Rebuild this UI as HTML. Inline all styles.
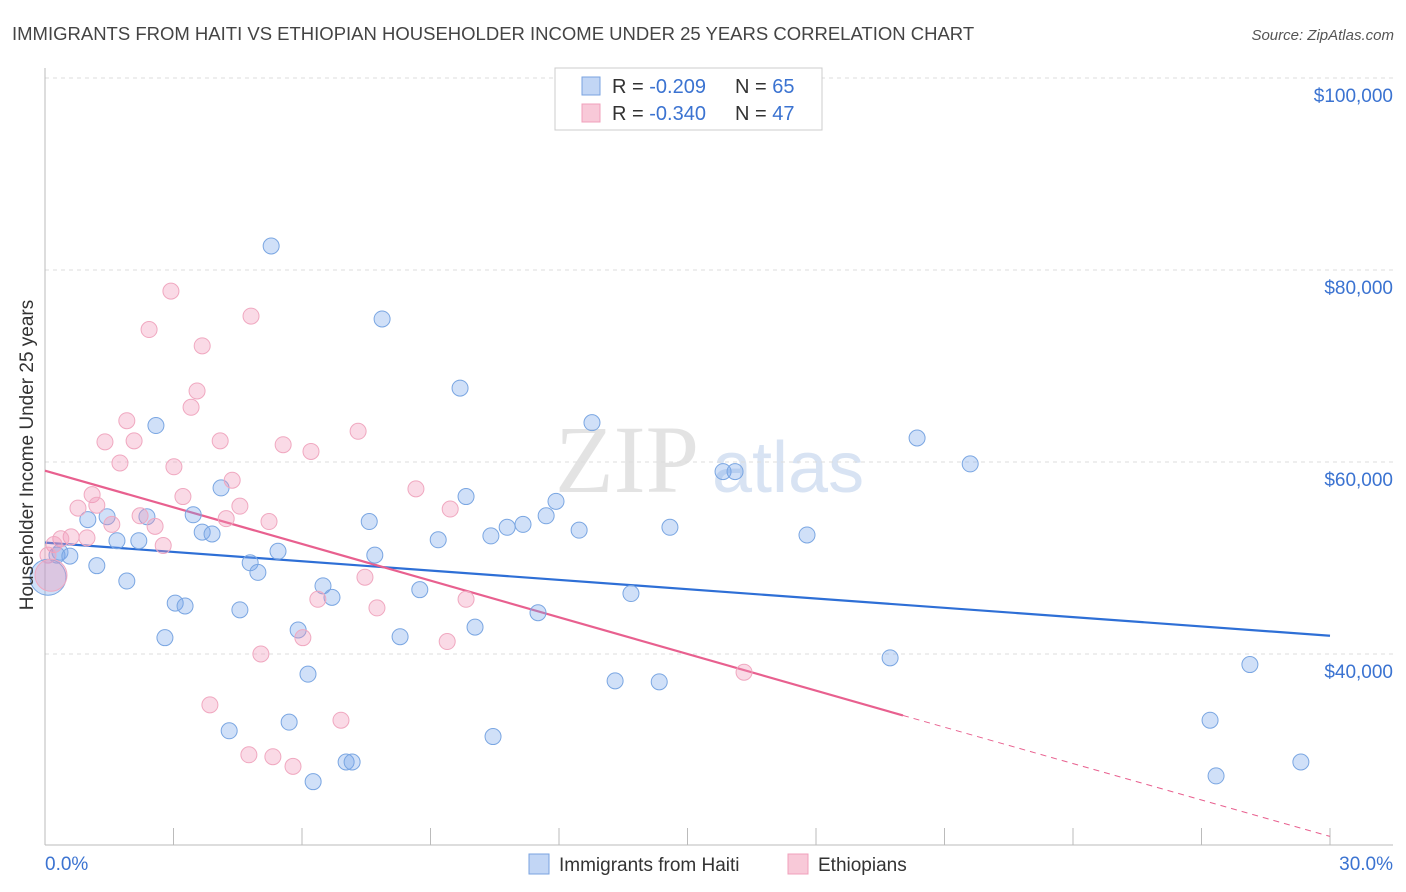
<!DOCTYPE html>
<html><head><meta charset="utf-8"><style>
body{margin:0;background:#fff;font-family:"Liberation Sans",sans-serif;}
svg{display:block}
</style></head><body>
<svg id="chart" width="1406" height="892" xmlns="http://www.w3.org/2000/svg">
<text x="12" y="40" font-size="18.5" fill="#444">IMMIGRANTS FROM HAITI VS ETHIOPIAN HOUSEHOLDER INCOME UNDER 25 YEARS CORRELATION CHART</text>
<text x="1394" y="40" font-size="15" fill="#555" font-style="italic" text-anchor="end">Source: ZipAtlas.com</text>
<g><text x="555" y="492" font-size="96" fill="#ddd" font-family="Liberation Serif,serif" opacity="0.8">ZIP</text><text x="712" y="492" font-size="72" fill="#c8d8ef" opacity="0.7">atlas</text></g>
<g id="grid"></g><g id="axes"></g><g id="lines"></g><g id="points"></g>
<text transform="translate(33,455) rotate(-90)" font-size="19" fill="#333" text-anchor="middle">Householder Income Under 25 years</text>
<g>
<rect x="555" y="68" width="267" height="62" fill="#fff" stroke="#ccc"/>
<rect x="582" y="77" width="18" height="18" fill="#c2d6f5" stroke="#7aa3e0"/>
<rect x="582" y="104" width="18" height="18" fill="#f8c9d8" stroke="#f0a0bb"/>
<text x="612" y="93" font-size="20" fill="#333">R = <tspan fill="#3b73d1">-0.209</tspan></text>
<text x="735" y="93" font-size="20" fill="#333">N = <tspan fill="#3b73d1">65</tspan></text>
<text x="612" y="120" font-size="20" fill="#333">R = <tspan fill="#3b73d1">-0.340</tspan></text>
<text x="735" y="120" font-size="20" fill="#333">N = <tspan fill="#3b73d1">47</tspan></text>
</g>
<g>
<rect x="529" y="854" width="20" height="20" fill="#c2d6f5" stroke="#7aa3e0"/>
<text x="559" y="871" font-size="19" fill="#333">Immigrants from Haiti</text>
<rect x="788" y="854" width="20" height="20" fill="#f8c9d8" stroke="#f0a0bb"/>
<text x="818" y="871" font-size="19" fill="#333">Ethiopians</text>
</g>
</svg>
<script>
const yTicks=[40,60,80,100];
const yTickLabels=["$40,000","$60,000","$80,000","$100,000"];
const xTickLabels=["0.0%","30.0%"];
const haitiX=[5.28,7.87,9.69,2.59,12.77,20.36,21.60,15.83,16.11,4.11,9.83,11.93,1.00,1.45,2.38,3.46,11.70,7.57,11.16,10.79,12.47,14.59,3.67,3.90,1.68,2.19,10.41,9.18,17.79,0.35,0.28,0.58,5.44,7.70,4.79,4.97,1.21,1.91,6.49,6.70,8.75,13.68,3.04,3.27,4.55,11.51,10.04,5.91,2.80,8.29,19.73,28.13,6.14,13.31,14.34,4.30,5.70,27.20,10.46,7.03,7.17,29.32,6.26,27.34];
const haitiY=[82.5,74.9,67.7,63.8,64.1,62.5,59.8,59.0,59.0,57.3,56.4,55.9,54.0,54.3,54.3,54.5,54.4,53.8,53.5,53.2,52.9,53.2,52.7,52.5,51.8,51.8,52.3,51.9,52.4,50.6,50.3,50.2,50.7,50.3,49.5,48.5,49.2,47.6,47.1,45.9,46.7,46.3,45.3,45.0,44.6,44.3,42.8,42.5,41.7,41.8,39.6,38.9,37.9,37.2,37.1,32.0,32.9,33.1,31.4,28.75,28.75,28.75,26.7,27.3];
const ethX=[2.94,4.81,2.43,3.67,3.55,3.41,1.91,1.40,2.08,4.09,7.31,5.56,6.21,1.75,3.01,4.37,8.66,1.10,3.22,0.77,1.21,9.46,2.22,1.56,4.23,4.55,2.57,5.23,0.61,0.98,0.37,2.76,0.21,0.07,7.47,6.37,7.75,9.83,6.02,9.39,5.04,16.32,3.85,6.91,4.76,5.32,5.79];
const ethY=[77.8,75.2,73.8,72.1,67.4,65.7,64.3,62.1,62.2,62.2,63.2,61.8,61.1,59.9,59.5,58.1,57.2,56.6,56.4,55.2,55.5,55.1,54.4,53.5,54.1,55.4,53.3,53.8,52.2,52.1,52.0,51.3,51.4,50.3,48.0,45.7,44.8,45.7,41.7,41.3,40.0,38.1,34.7,33.1,29.5,29.3,28.3];
const bigX=[0.07,0.14], bigY=[48.0,48.2];
const haitiTrend=[51.6,41.9];
const ethTrend=[59.1,33.6,21.0];
const ethSolidEnd=20.03;
const NS="http://www.w3.org/2000/svg";
const xs=v=>45+v/30*1285;
const ys=v=>654-(v-40)*9.6;
function mk(t,a,p){const e=document.createElementNS(NS,t);for(const k in a)e.setAttribute(k,a[k]);document.getElementById(p).appendChild(e);return e;}
yTicks.forEach((t,i)=>{
 const g=mk('line',{x1:45,x2:1393,y1:ys(t),y2:ys(t),stroke:'#ddd','stroke-dasharray':'4,4'},'grid');
 
 
 const l=mk('text',{x:1393,y:ys(t)+24,'font-size':19,fill:'#3b73d1','text-anchor':'end'},'grid');
 l.textContent=yTickLabels[i];
 
 
});
mk('line',{x1:45,x2:45,y1:68,y2:845,stroke:'#bbb'},'axes');
mk('line',{x1:45,x2:1393,y1:845,y2:845,stroke:'#bbb'},'axes');
for(let i=0;i<=10;i++){const t=mk('line',{x1:xs(i*3),x2:xs(i*3),y1:828,y2:845,stroke:'#bbb'},'axes');}
[[0,45,'start'],[30,1393,'end']].forEach((d,i)=>{const t=mk('text',{x:d[1],y:870,'font-size':19,fill:'#3b73d1','text-anchor':d[2]},'axes');t.textContent=xTickLabels[i];});
function pts(X,Y,fill,stroke,name,r){X.forEach((x,i)=>{const c=mk('circle',{cx:xs(x),cy:ys(Y[i]),r:r,fill:fill,stroke:stroke,'stroke-width':1},'points');

});}
pts(haitiX,haitiY,'rgba(120,165,235,0.35)','#7aa6e2','haiti-point',8);
pts(ethX,ethY,'rgba(242,150,182,0.35)','#f0a8c0','ethiopian-point',8);
pts([bigX[0]],[bigY[0]],'rgba(120,165,235,0.35)','#7aa6e2','haiti-point-large',18);
pts([bigX[1]],[bigY[1]],'rgba(242,150,182,0.35)','#f0a8c0','ethiopian-point-large',16);
let l=mk('line',{x1:xs(0),y1:ys(haitiTrend[0]),x2:xs(30),y2:ys(haitiTrend[1]),stroke:'#2e6fd6','stroke-width':2.2},'lines');


l=mk('line',{x1:xs(0),y1:ys(ethTrend[0]),x2:xs(ethSolidEnd),y2:ys(ethTrend[1]),stroke:'#e8608f','stroke-width':2.2},'lines');


l=mk('line',{x1:xs(ethSolidEnd),y1:ys(ethTrend[1]),x2:xs(30),y2:ys(ethTrend[2]),stroke:'#e8608f','stroke-width':1,'stroke-dasharray':'6,5'},'lines');


</script>
</body></html>
